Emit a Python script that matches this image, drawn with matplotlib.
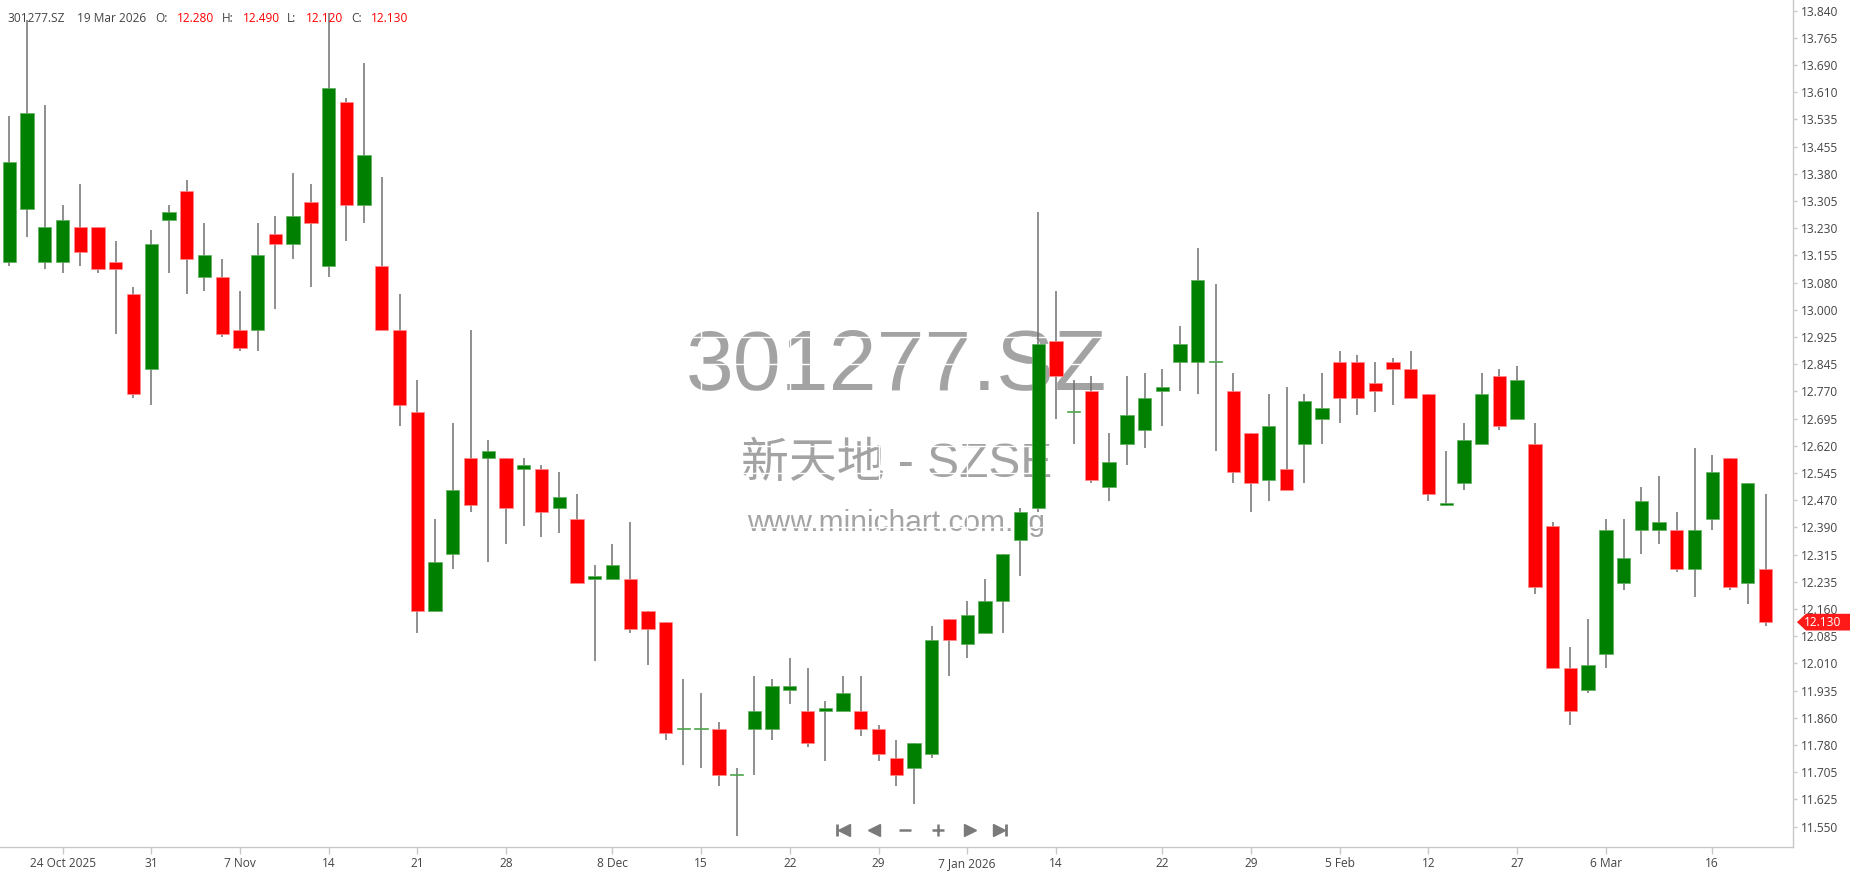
import numpy as np
import pandas as pd
import matplotlib
matplotlib.use('Agg')
import matplotlib.pyplot as plt
from matplotlib import transforms
from matplotlib.patches import Polygon

symbol = '301277.SZ'
name_cn = '新天地 - SZSE'
site = 'www.minichart.com.sg'

# trading days (SZSE closed on New Year and Spring Festival)
holidays = ['2026-01-01', '2026-01-02', '2026-02-16', '2026-02-17', '2026-02-18',
            '2026-02-19', '2026-02-20', '2026-02-23']
dates = pd.bdate_range('2025-10-21', '2026-03-19', freq='C', holidays=holidays)

opens = [13.14, 13.29, 13.14, 13.14, 13.24, 13.24, 13.14, 13.05, 12.84, 13.26,
         13.34, 13.10, 13.10, 12.95, 12.95, 13.22, 13.19, 13.31, 13.13, 13.59,
         13.30, 13.13, 12.95, 12.72, 12.16, 12.32, 12.59, 12.59, 12.59, 12.56,
         12.56, 12.45, 12.42, 12.25, 12.25, 12.25, 12.16, 12.13, 11.83, 11.83,
         11.83, 11.70, 11.83, 11.83, 11.94, 11.88, 11.88, 11.88, 11.88, 11.83,
         11.75, 11.72, 11.76, 12.14, 12.07, 12.10, 12.19, 12.36, 12.45, 12.92,
         12.72, 12.78, 12.51, 12.63, 12.67, 12.78, 12.86, 12.86, 12.86, 12.78,
         12.66, 12.53, 12.56, 12.63, 12.70, 12.86, 12.86, 12.80, 12.86, 12.84,
         12.77, 12.46, 12.52, 12.63, 12.82, 12.70, 12.63, 12.40, 12.00, 11.94,
         12.04, 12.24, 12.39, 12.39, 12.39, 12.28, 12.42, 12.59, 12.24, 12.28]
highs = [13.55, 13.82, 13.58, 13.30, 13.36, 13.24, 13.20, 13.07, 13.23, 13.30,
         13.37, 13.25, 13.15, 13.06, 13.25, 13.27, 13.39, 13.36, 13.84, 13.60,
         13.70, 13.38, 13.05, 12.81, 12.42, 12.69, 12.95, 12.64, 12.59, 12.59,
         12.57, 12.55, 12.49, 12.29, 12.35, 12.41, 12.16, 12.13, 11.97, 11.93,
         11.85, 11.72, 11.98, 11.97, 12.03, 12.00, 11.91, 11.98, 11.98, 11.84,
         11.80, 11.79, 12.12, 12.14, 12.19, 12.25, 12.32, 12.45, 13.28, 13.06,
         12.81, 12.82, 12.66, 12.82, 12.83, 12.84, 12.96, 13.18, 13.08, 12.83,
         12.66, 12.77, 12.79, 12.77, 12.83, 12.89, 12.88, 12.86, 12.87, 12.89,
         12.77, 12.61, 12.69, 12.83, 12.84, 12.85, 12.69, 12.41, 12.06, 12.14,
         12.42, 12.42, 12.51, 12.54, 12.44, 12.62, 12.60, 12.59, 12.52, 12.49]
lows = [13.13, 13.21, 13.12, 13.11, 13.13, 13.11, 12.94, 12.76, 12.74, 13.11,
        13.05, 13.06, 12.93, 12.89, 12.89, 13.01, 13.15, 13.07, 13.10, 13.20,
        13.25, 12.95, 12.68, 12.10, 12.16, 12.28, 12.44, 12.30, 12.35, 12.40,
        12.37, 12.38, 12.24, 12.02, 12.25, 12.10, 12.01, 11.80, 11.73, 11.72,
        11.67, 11.53, 11.70, 11.80, 11.90, 11.78, 11.74, 11.88, 11.81, 11.74,
        11.67, 11.62, 11.75, 11.98, 12.03, 12.10, 12.10, 12.26, 12.44, 12.70,
        12.63, 12.52, 12.47, 12.57, 12.62, 12.68, 12.78, 12.77, 12.61, 12.52,
        12.44, 12.47, 12.50, 12.52, 12.63, 12.69, 12.71, 12.72, 12.74, 12.76,
        12.47, 12.46, 12.50, 12.63, 12.67, 12.70, 12.21, 12.00, 11.84, 11.93,
        12.00, 12.22, 12.32, 12.35, 12.27, 12.20, 12.39, 12.22, 12.18, 12.12]
closes = [13.42, 13.56, 13.24, 13.26, 13.17, 13.12, 13.12, 12.77, 13.19, 13.28,
          13.15, 13.16, 12.94, 12.90, 13.16, 13.19, 13.27, 13.25, 13.63, 13.30,
          13.44, 12.95, 12.74, 12.16, 12.30, 12.50, 12.46, 12.61, 12.45, 12.57,
          12.44, 12.48, 12.24, 12.26, 12.29, 12.11, 12.11, 11.82, 11.83, 11.83,
          11.70, 11.70, 11.88, 11.95, 11.95, 11.79, 11.89, 11.93, 11.83, 11.76,
          11.70, 11.79, 12.08, 12.08, 12.15, 12.19, 12.32, 12.44, 12.91, 12.82,
          12.72, 12.53, 12.58, 12.71, 12.76, 12.79, 12.91, 13.09, 12.86, 12.55,
          12.52, 12.68, 12.50, 12.75, 12.73, 12.76, 12.76, 12.78, 12.84, 12.76,
          12.49, 12.46, 12.64, 12.77, 12.68, 12.81, 12.23, 12.00, 11.88, 12.01,
          12.39, 12.31, 12.47, 12.41, 12.28, 12.39, 12.55, 12.23, 12.52, 12.13]

tick_dates = ['2025-10-24', '2025-10-31', '2025-11-07', '2025-11-14', '2025-11-21',
              '2025-11-28', '2025-12-08', '2025-12-15', '2025-12-22', '2025-12-29',
              '2026-01-07', '2026-01-14', '2026-01-22', '2026-01-29', '2026-02-05',
              '2026-02-12', '2026-02-27', '2026-03-06', '2026-03-16']
tick_labels = ['24 Oct 2025', '31', '7 Nov', '14', '21', '28', '8 Dec', '15', '22', '29',
               '7 Jan 2026', '14', '22', '29', '5 Feb', '12', '27', '6 Mar', '16']

y_labels = ['13.840', '13.765', '13.690', '13.610', '13.535', '13.455', '13.380',
            '13.305', '13.230', '13.155', '13.080', '13.000', '12.925', '12.845',
            '12.770', '12.695', '12.620', '12.545', '12.470', '12.390', '12.315',
            '12.235', '12.160', '12.085', '12.010', '11.935', '11.860', '11.780',
            '11.705', '11.625', '11.550']

o = np.array(opens)
h = np.array(highs)
l = np.array(lows)
c = np.array(closes)
assert len(dates) == len(o)
x = np.arange(len(o))

W, H = 1850, 874
fig = plt.figure(figsize=(W / 100, H / 100), dpi=100)
ax = fig.add_axes([0, 27 / H, 1793 / W, 847 / H])
ax.set_xlim(-0.524, 100.55)
ax.set_ylim(11.499, 13.876)

txt_font = 'Open Sans'
grey = '#c8c8c8'

# watermark
wm = dict(transform=ax.transAxes, ha='center', va='center', color='#a3a3a3', zorder=0.3)
ax.text(0.5, 0.565, symbol, fontsize=62, family='Liberation Sans', **wm)
ax.text(0.5, 0.452, name_cn, fontsize=34.5, family=['Liberation Sans', 'Noto Sans CJK SC'], **wm)
ax.text(0.5, 0.383, site, fontsize=21.5, family='Liberation Sans', **wm)

# candles
up = c >= o
body_col = np.where(up, '#008000', '#ff0000')
edge_col = np.where(up, '#5fae5f', '#ff8a8a')
ax.vlines(x, l, h, color='#707070', lw=1.1, zorder=2)
ax.bar(x, np.maximum(np.abs(c - o), 0.003), 0.75, bottom=np.minimum(o, c),
       color=body_col, edgecolor=edge_col, linewidth=0.5, zorder=3)

# axes styling
for s in ['left', 'top']:
    ax.spines[s].set_visible(False)
for s in ['right', 'bottom']:
    ax.spines[s].set_color(grey)
    ax.spines[s].set_linewidth(1)

pos = {d.strftime('%Y-%m-%d'): i for i, d in enumerate(dates)}
ax.set_xticks([pos[d] for d in tick_dates])
ax.set_xticklabels(tick_labels)
ax.yaxis.tick_right()
ax.set_yticks(np.linspace(13.846, 11.556, len(y_labels)))
ax.set_yticklabels(y_labels)
ax.tick_params(axis='x', length=5, width=1, color=grey, pad=2, labelsize=8.6, labelcolor='#444444')
ax.tick_params(axis='y', length=3, width=1, color=grey, pad=3, labelsize=8.6, labelcolor='#444444')
for t in ax.get_xticklabels() + ax.get_yticklabels():
    t.set_family(txt_font)
ax.grid(True, color='white', lw=1)
ax.set_axisbelow(True)

# last price tag on the right axis
tr = transforms.blended_transform_factory(ax.transAxes, ax.transData)
yc = c[-1]
dy = 0.0235
ax.add_patch(Polygon([(1.0022, yc), (1.0072, yc + dy), (1.04, yc + dy), (1.04, yc - dy), (1.0072, yc - dy)],
                     closed=True, transform=tr, facecolor='#ff1a1a', edgecolor='none',
                     clip_on=False, zorder=10))
ax.text(1.0061, yc, f'{c[-1]:.3f}', transform=tr, ha='left', va='center', color='white',
        fontsize=8.6, family=txt_font, zorder=11, clip_on=False)

# header line
last = dates[-1]
head = [(symbol, 7, '#444444'), (f'{last.day} {last.strftime("%b %Y")}', 77, '#444444'),
        ('O:', 155, '#444444'), (f'{o[-1]:.3f}', 177, 'red'),
        ('H:', 222, '#444444'), (f'{h[-1]:.3f}', 243, 'red'),
        ('L:', 287, '#444444'), (f'{l[-1]:.3f}', 306, 'red'),
        ('C:', 351, '#444444'), (f'{c[-1]:.3f}', 371, 'red')]
for s, px, col in head:
    fig.text(px / W, 1 - 18 / H, s, ha='left', va='center', color=col, fontsize=8.6, family=txt_font)

# navigation buttons
nav = fig.add_axes([0, 0, 1, 1], facecolor='none')
nav.set_xlim(0, W)
nav.set_ylim(H, 0)
nav.axis('off')
ny = 830
nc = '#7a7a7a'
nav.plot([837], [ny], marker='|', ms=9, mew=2, color=nc)
nav.plot([844], [ny], marker='<', ms=8, color=nc)
nav.plot([874], [ny], marker='<', ms=8, color=nc)
nav.plot([905], [ny], marker='_', ms=9, mew=1.8, color=nc)
nav.plot([938], [ny], marker='+', ms=9, mew=1.8, color=nc)
nav.plot([970], [ny], marker='>', ms=8, color=nc)
nav.plot([999], [ny], marker='>', ms=8, color=nc)
nav.plot([1006], [ny], marker='|', ms=9, mew=2, color=nc)

fig.savefig('out.png', dpi=100)
